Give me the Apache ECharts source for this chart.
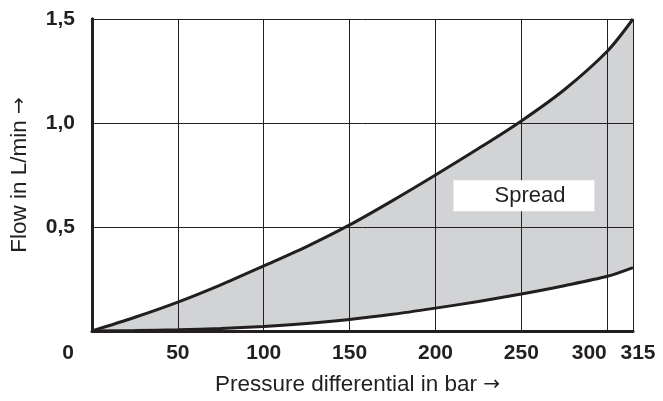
<!DOCTYPE html>
<html><head><meta charset="utf-8">
<script src="https://cdn.jsdelivr.net/npm/echarts@6/dist/echarts.min.js"></script>
<style>html,body{margin:0;padding:0;background:#fff}#c{width:663px;height:401px}</style>
</head><body><div id="c"></div>
<script>
var pressure = [0, 25, 50, 75, 100, 125, 150, 175, 200, 225, 250, 275, 300, 315];
var upperFlow = [0, 0.066, 0.139, 0.222, 0.313, 0.406, 0.51, 0.627, 0.75, 0.877, 1.01, 1.16, 1.345, 1.5];
var lowerFlow = [0, 0.002, 0.006, 0.012, 0.022, 0.036, 0.055, 0.08, 0.11, 0.142, 0.178, 0.218, 0.263, 0.305];
var yTickLabels = { '0.5': '0,5', '1': '1,0', '1.5': '1,5' };
var xMaxLabel = '315';
var spreadLabel = 'Spread';
var spreadPos = [251.5, 0.65];

var upperPts = pressure.map(function (p, i) { return [p, upperFlow[i]]; });
var lowerPts = pressure.map(function (p, i) { return [p, lowerFlow[i]]; });
var ink = '#231f20';
var tickFont = { fontFamily: '"Liberation Sans", Arial, sans-serif', fontWeight: 'bold', fontSize: 21, color: ink };
var nameFont = { fontFamily: '"Liberation Sans", Arial, sans-serif', fontSize: 22.5, color: ink };
var arrowFont = { fontFamily: '"DejaVu Sans", sans-serif', fontSize: 20, color: ink };

var chart = echarts.init(document.getElementById('c'), null, { renderer: 'canvas' });
chart.setOption({
  animation: false,
  grid: { left: 92, right: 30, top: 19, bottom: 67 },
  xAxis: [{
    type: 'value', min: 0, max: 315, interval: 50, z: 5, position: 'bottom',
    name: '{t|Pressure differential in bar }{a|\u2192}', nameLocation: 'middle', nameGap: 42,
    nameTextStyle: Object.assign({}, nameFont, { padding: [0, 10, 0, 0], rich: { t: nameFont, a: arrowFont } }),
    axisLine: { show: true, onZero: false, lineStyle: { color: ink, width: 3 } },
    axisTick: { show: false },
    splitLine: { show: true, lineStyle: { color: ink, width: 1 } },
    axisLabel: Object.assign({}, tickFont, {
      margin: 12,
      showMaxLabel: false, hideOverlap: false,
      formatter: function (v) {
        if (v === 0) return '{z|0}';
        if (v === 300) return '{s|300}';
        return String(v);
      },
      rich: {
        z: Object.assign({}, tickFont, { padding: [0, 48, 0, 0] }),
        s: Object.assign({}, tickFont, { padding: [0, 36, 0, 0] })
      }
    })
  }, {
    type: 'value', min: 0, max: 315, interval: 315, z: 5, position: 'bottom',
    axisLine: { show: false }, axisTick: { show: false }, splitLine: { show: false },
    axisLabel: Object.assign({}, tickFont, {
      margin: 12, showMinLabel: false, showMaxLabel: true,
      formatter: function (v) { return v === 315 ? '{r|' + xMaxLabel + '}' : ''; },
      rich: { r: Object.assign({}, tickFont, { padding: [0, 0, 0, 10] }) }
    })
  }],
  yAxis: [{
    type: 'value', min: 0, max: 1.5, interval: 0.5, z: 5,
    name: '{t|Flow in L/min }{a|\u2192}', nameLocation: 'middle', nameGap: 61,
    nameTextStyle: Object.assign({}, nameFont, { rich: { t: nameFont, a: arrowFont } }),
    axisLine: { show: true, lineStyle: { color: ink, width: 3 } },
    axisTick: { show: false },
    splitLine: { show: true, lineStyle: { color: ink, width: 1 } },
    axisLabel: Object.assign({}, tickFont, {
      margin: 17,
      showMinLabel: false,
      formatter: function (v) { return yTickLabels[String(v)] || ''; }
    })
  }, {
    type: 'value', min: 0, max: 1.5, position: 'right', z: 5,
    axisLine: { show: true, lineStyle: { color: ink, width: 3 } },
    axisTick: { show: false }, axisLabel: { show: false }, splitLine: { show: false }
  }],
  series: [{
    type: 'line', data: upperPts, smooth: 0.3, symbol: 'none',
    lineStyle: { color: ink, width: 3 },
    areaStyle: { color: '#d1d3d4', opacity: 1 }, z: 2
  }, {
    type: 'line', data: lowerPts, smooth: 0.3, symbol: 'none',
    lineStyle: { color: ink, width: 3 },
    areaStyle: { color: '#ffffff', opacity: 1 }, z: 3
  }, {
    type: 'scatter', data: [spreadPos], symbolSize: 0, z: 10, silent: true,
    itemStyle: { opacity: 1 },
    label: {
      show: true, formatter: spreadLabel, position: 'inside', opacity: 1,
      fontFamily: '"Liberation Sans", Arial, sans-serif', fontSize: 22, color: ink,
      backgroundColor: '#ffffff', padding: [5, 29, 4, 41]
    }
  }]
});
</script></body></html>
